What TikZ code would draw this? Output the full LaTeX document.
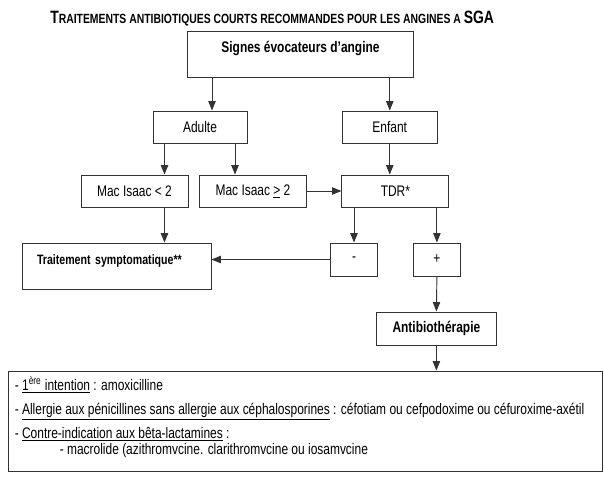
\documentclass[tikz,border=0pt]{standalone}
\usepackage{fontspec}
\setmainfont{Liberation Sans}[FakeStretch=0.78]
\usetikzlibrary{arrows.meta, positioning, calc}

\begin{document}
\begin{tikzpicture}[x=0.75pt, y=-0.75pt, font=\fontsize{11.5}{14}\selectfont,
    box/.style={rectangle, draw=black!80, line width=0.7pt, inner sep=0pt, minimum height=24pt},
    tallbox/.style={box, minimum height=0pt, inner ysep=0pt, text height=16.5pt, text depth=18pt},
    fleche/.style={draw=black!80, line width=0.7pt, -{Triangle[length=7pt,width=5.5pt]}},
    ligne/.style={anchor=base west, inner sep=0pt}]
  \useasboundingbox (0,0) rectangle (604,477);

  % Titre
  \node[anchor=base west, inner sep=0pt] (titre) at (50,23.5) {\bfseries\fontsize{13.4}{16}\selectfont T\fontsize{10}{12}\selectfont RAITEMENTS ANTIBIOTIQUES COURTS RECOMMANDES POUR LES ANGINES A \fontsize{13.4}{16}\selectfont SGA};

  % Diagnostic
  \node[tallbox, minimum width=169.3pt] (signes) at (300.5,54) {\bfseries Signes évocateurs d'angine};
  \node[box, minimum width=70.5pt] (adulte) at (200,127) {Adulte};
  \node[box, minimum width=70.9pt] (enfant) at (389.75,127) {Enfant};
  \node[box, minimum width=80.25pt] (mac1) at (134.5,191) {Mac Isaac < 2};
  \node[box, minimum width=80.25pt] (mac2) at (253,191) {Mac Isaac \underline{>} 2};
  \node[box, minimum width=80.25pt] (tdr) at (395.4,191) {TDR*};

  % Resultat du TDR
  \node[box, minimum width=35.6pt, minimum height=24.75pt] (moins) at (354,259.5) {-};
  \node[box, minimum width=35.6pt, minimum height=24.75pt] (plus) at (436.9,259.5) {+};
  \node[tallbox, text width=119.25pt, inner xsep=11.25pt, align=left, font=\fontsize{10.2}{12}\selectfont] (trait) at (116.5,266) {\bfseries Traitement symptomatique**};
  \node[box, minimum width=89.5pt, minimum height=24.75pt] (antibio) at (436.4,328.5) {\bfseries Antibiothérapie};

  % Molecules
  \node[box, minimum width=445.5pt, minimum height=75pt] (schema) at (305,421) {};
  \node[ligne] (l1) at ($(schema.north west)+(7,20)$) {- \underline{1\textsuperscript{ère} intention} : amoxicilline};
  \node[ligne] (l2) at ($(schema.north west)+(7,44)$) {- \underline{Allergie aux pénicillines sans allergie aux céphalosporines} : céfotiam ou cefpodoxime ou céfuroxime-axétil};
  \node[ligne] (l3) at ($(schema.north west)+(7,68)$) {- \underline{Contre-indication aux bêta-lactamines} :};
  \node[ligne] (l4) at ($(schema.north west)+(52,84)$) {- macrolide (azithromvcine. clarithromvcine ou iosamvcine};

  % Fleches
  \draw[fleche] ($(adulte.north |- signes.south)+(12,0)$) -- ($(adulte.north)+(12,0)$);
  \draw[fleche] (enfant.north |- signes.south) -- (enfant.north);
  \draw[fleche] ($(mac1.north |- adulte.south)+(30,0)$) -- ($(mac1.north)+(30,0)$);
  \draw[fleche] ($(mac2.north |- adulte.south)+(-18,0)$) -- ($(mac2.north)+(-18,0)$);
  \draw[fleche] (enfant.south) -- (enfant.south |- tdr.north);
  \draw[fleche] (mac2.east) -- (tdr.west);
  \draw[fleche] ($(mac1.south)+(30,0)$) -- ($(mac1.south |- trait.north)+(30,0)$);
  \draw[fleche] (moins.north |- tdr.south) -- (moins.north);
  \draw[fleche] (plus.north |- tdr.south) -- (plus.north);
  \draw[fleche] (moins.west) -- (moins.west -| trait.east);
  \draw[fleche] (plus.south) -- (antibio.north);
  \draw[fleche] (antibio.south) -- (antibio.south |- schema.north);
\end{tikzpicture}
\end{document}
